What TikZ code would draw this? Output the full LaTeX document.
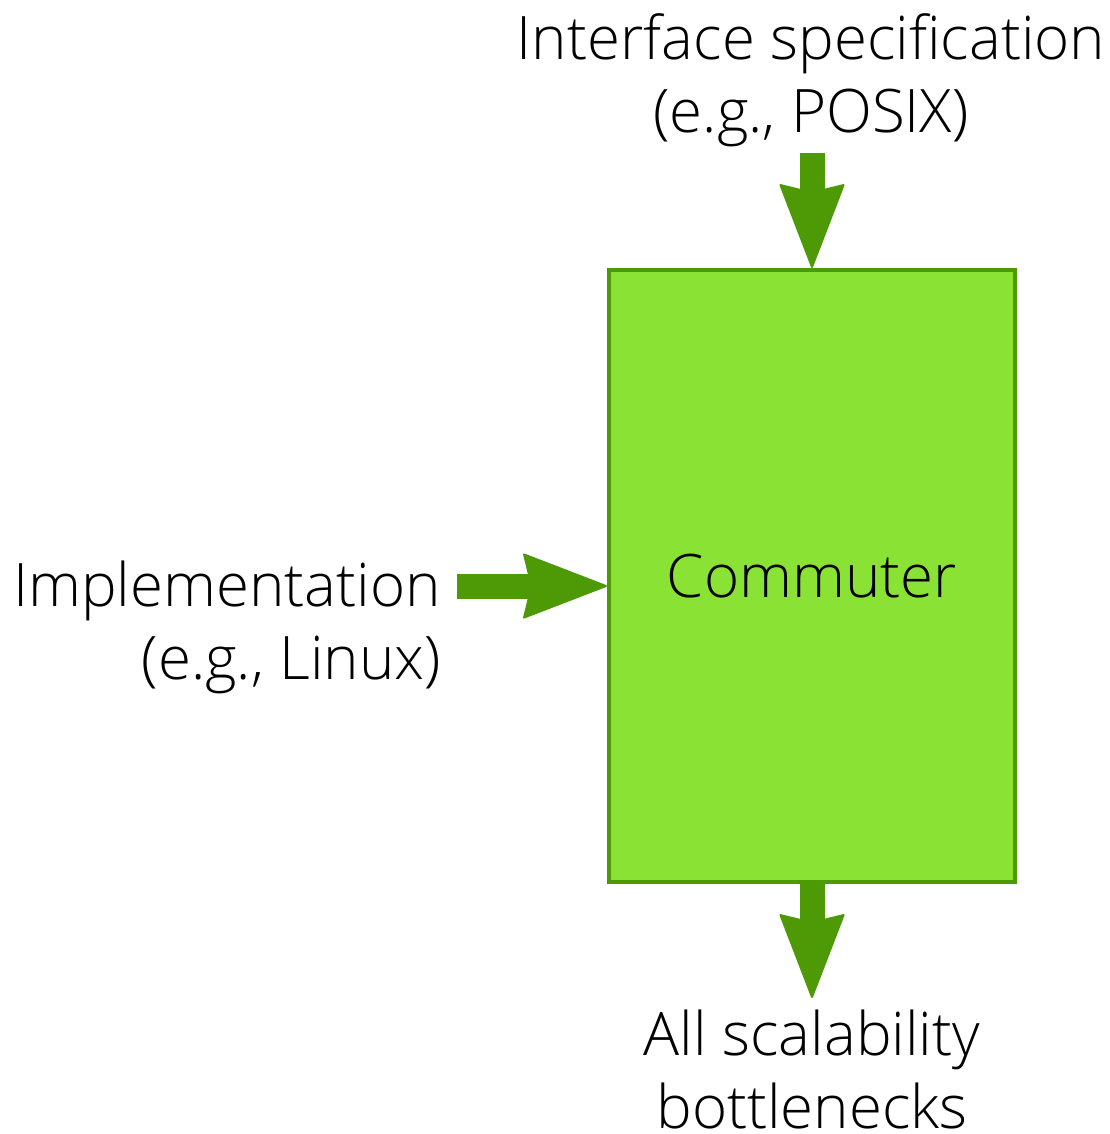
\documentclass[tikz,border=0pt]{standalone}
\usepackage{fontspec}
\setmainfont{Open Sans Light}
\usetikzlibrary{arrows.meta}
\definecolor{boxfill}{HTML}{8AE234}
\definecolor{boxline}{HTML}{4E9A06}
\begin{document}
\begin{tikzpicture}[x=1pt,y=-1pt,
  lbl/.style={font=\fontsize{60}{73}\selectfont, inner sep=0pt},
  bigarrow/.style={draw=boxline, line width=25pt,
    -{Stealth[length=86pt,width=66pt,inset=8pt,line width=2pt,round]}},
]
\useasboundingbox (0,0) rectangle (1109,1134);
\node[draw=boxline, fill=boxfill, line width=4pt, minimum width=406pt,
  minimum height=612pt, inner sep=0pt, lbl] (box) at (812,576) {Commuter};
\node[lbl, align=center, anchor=north] (spec) at (811,13) {Interface specification\\(e.g., POSIX)};
\coordinate (specout) at (812,153);
\draw[bigarrow] (specout) -- (box.north);
\node[lbl, align=right, anchor=north east] (impl) at (441,561) {Implementation\\(e.g., Linux)};
\coordinate (implout) at (457,586);
\draw[bigarrow] (implout) -- (box.west |- implout);
\coordinate (botend) at (812,998);
\draw[bigarrow] (box.south) -- (botend);
\node[lbl, align=center, anchor=north] (bott) at (812,1010) {All scalability\\bottlenecks};
\end{tikzpicture}
\end{document}
